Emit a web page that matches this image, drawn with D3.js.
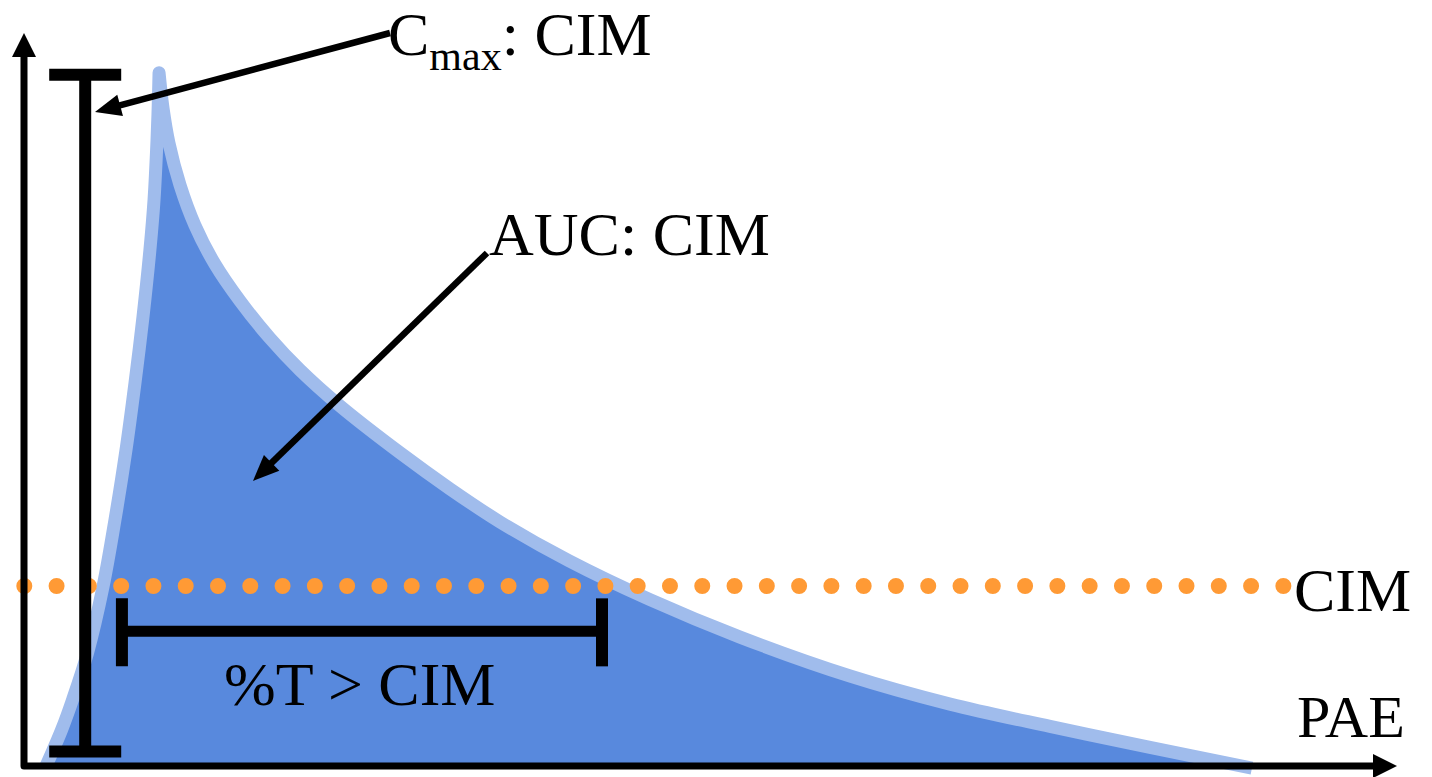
<!DOCTYPE html>
<html><head><meta charset="utf-8">
<script src="https://cdn.jsdelivr.net/npm/d3@7"></script>
<style>html,body{margin:0;padding:0;background:#fff;overflow:hidden}</style>
</head><body>
<svg id="chart" width="1432" height="777"></svg>
<script>
// ---- data (arbitrary units: time 0-100, concentration 0-100) ----
const curveTime = [1.62, 2.76, 3.57, 4.67, 5.81, 6.69, 7.50, 8.16, 8.75, 9.26, 9.56, 9.78, 9.87, 9.93,
                   10.22, 10.66, 11.47, 12.57, 14.04, 15.88, 18.09, 20.29, 23.24, 27.65, 31.32, 35.0, 40.07, 46.03, 52.65, 60.74, 68.09, 75.44, 82.79, 90.29];
const curveConc = [0, 5.0, 9.2, 15.7, 24.9, 34.2, 43.9, 53.2, 62.4, 71.7, 78.6, 86.9, 91.8, 96.3,
                   91.4, 86.5, 80.7, 75.1, 69.7, 64.6, 59.4, 55.0, 50.0, 43.5, 38.5, 33.9, 28.5, 23.1, 17.9, 12.5, 8.6, 5.5, 2.6, -0.3];
const cimLevel = 25;          // minimum inhibitory concentration
const cmaxLevel = 96;         // Cmax bar top
const cmaxBaseLevel = 2;      // Cmax bar bottom
const cmaxTime = 4.5;         // Cmax bar position
const tAboveStart = 7.2;      // %T > CIM interval
const tAboveEnd = 42.5;
const tAboveLevel = 18.7;
const labels = {cmaxMain: "C", cmaxSub: "max", cmaxRest: ": CIM", auc: "AUC: CIM", cim: "CIM", pae: "PAE", tabove: "%T > CIM"};

// ---- layout ----
const svg = d3.select("#chart");
const x = d3.scaleLinear().domain([0, 100]).range([24, 1384]);
const y = d3.scaleLinear().domain([0, 100]).range([766, 46]);
const DARK = "#5889dd", LIGHT = "#a0bcec", ORANGE = "#ff9a35";
const FONT = "'Liberation Serif','Times New Roman',serif";

const pts = curveTime.map((t, i) => ({t, c: curveConc[i]}));
const peak = d3.maxIndex(pts, d => d.c);
const rising = pts.slice(0, peak + 1);
const falling = pts.slice(peak);
const line = d3.line().x(d => x(d.t)).y(d => y(d.c)).curve(d3.curveCatmullRom.alpha(0.5));
const dRise = line(rising);
const dFall = line(falling).replace(/^M/, "L");
const curveD = dRise + dFall;

// area under the concentration curve
svg.append("path")
  .attr("d", curveD + `L${x(falling[falling.length - 1].t)},${y(0)}L${x(rising[0].t)},${y(0)}Z`)
  .attr("fill", DARK);
// curve outline
svg.append("path").attr("d", curveD)
  .attr("fill", "none").attr("stroke", LIGHT).attr("stroke-width", 13)
  .attr("stroke-linejoin", "round").attr("stroke-linecap", "butt");

// CIM dotted line
const dotStart = x(0) + 0.3, dotEnd = x(92.6);
const gap = (dotEnd - dotStart) / 39;
svg.append("line")
  .attr("x1", dotStart).attr("x2", dotEnd + 2)
  .attr("y1", y(cimLevel)).attr("y2", y(cimLevel))
  .attr("stroke", ORANGE).attr("stroke-width", 16).attr("stroke-linecap", "round")
  .attr("stroke-dasharray", `0.001 ${gap - 0.001}`);

// axes
svg.append("path")
  .attr("d", `M${x(0)},${y(100) + 8} L${x(0)},${y(0)} L${x(100) - 10},${y(0)}`)
  .attr("fill", "none").attr("stroke", "#000").attr("stroke-width", 7).attr("stroke-linejoin", "round");
function head(tipX, tipY, fromX, fromY, len, half) {
  const a = Math.atan2(tipY - fromY, tipX - fromX);
  const bx = tipX - len * Math.cos(a), by = tipY - len * Math.sin(a);
  const px = -Math.sin(a) * half, py = Math.cos(a) * half;
  svg.append("path").attr("d", `M${tipX},${tipY}L${bx + px},${by + py}L${bx - px},${by - py}Z`).attr("fill", "#000");
}
head(x(0), 33, x(0), 400, 24, 12);
head(1397, y(0), 600, y(0), 24, 12);

// Cmax bar
const cbx = x(cmaxTime);
svg.append("line").attr("x1", cbx).attr("x2", cbx).attr("y1", y(cmaxLevel)).attr("y2", y(cmaxBaseLevel))
  .attr("stroke", "#000").attr("stroke-width", 12);
[cmaxLevel, cmaxBaseLevel].forEach(l => {
  svg.append("line").attr("x1", cbx - 36).attr("x2", cbx + 36).attr("y1", y(l)).attr("y2", y(l))
    .attr("stroke", "#000").attr("stroke-width", 12);
});

// %T > CIM bar
const ty = y(tAboveLevel);
svg.append("line").attr("x1", x(tAboveStart)).attr("x2", x(tAboveEnd)).attr("y1", ty).attr("y2", ty)
  .attr("stroke", "#000").attr("stroke-width", 11);
[tAboveStart, tAboveEnd].forEach(t => {
  svg.append("line").attr("x1", x(t)).attr("x2", x(t)).attr("y1", ty - 33).attr("y2", ty + 35)
    .attr("stroke", "#000").attr("stroke-width", 12);
});

// arrows
function arrow(x1, y1, x2, y2) {
  const a = Math.atan2(y2 - y1, x2 - x1);
  svg.append("line").attr("x1", x1).attr("y1", y1)
    .attr("x2", x2 - 18 * Math.cos(a)).attr("y2", y2 - 18 * Math.sin(a))
    .attr("stroke", "#000").attr("stroke-width", 6.5);
  head(x2, y2, x1, y1, 26, 11);
}
arrow(390, 33, 95, 112);
arrow(487, 253, 253, 481);

// labels
const t1 = svg.append("text").attr("x", 388).attr("y", 55).attr("font-family", FONT).attr("font-size", 62).attr("fill", "#000");
t1.append("tspan").text(labels.cmaxMain);
t1.append("tspan").attr("font-size", 42).attr("dy", 15).text(labels.cmaxSub);
t1.append("tspan").attr("dy", -15).text(labels.cmaxRest);
svg.append("text").attr("x", 489).attr("y", 255).attr("font-family", FONT).attr("font-size", 62).text(labels.auc);
svg.append("text").attr("x", 1294).attr("y", 611).attr("font-family", FONT).attr("font-size", 62).text(labels.cim);
svg.append("text").attr("x", 1297).attr("y", 737).attr("font-family", FONT).attr("font-size", 60).text(labels.pae);
svg.append("text").attr("x", 224).attr("y", 705).attr("font-family", FONT).attr("font-size", 62).text(labels.tabove);
</script>
</body></html>
